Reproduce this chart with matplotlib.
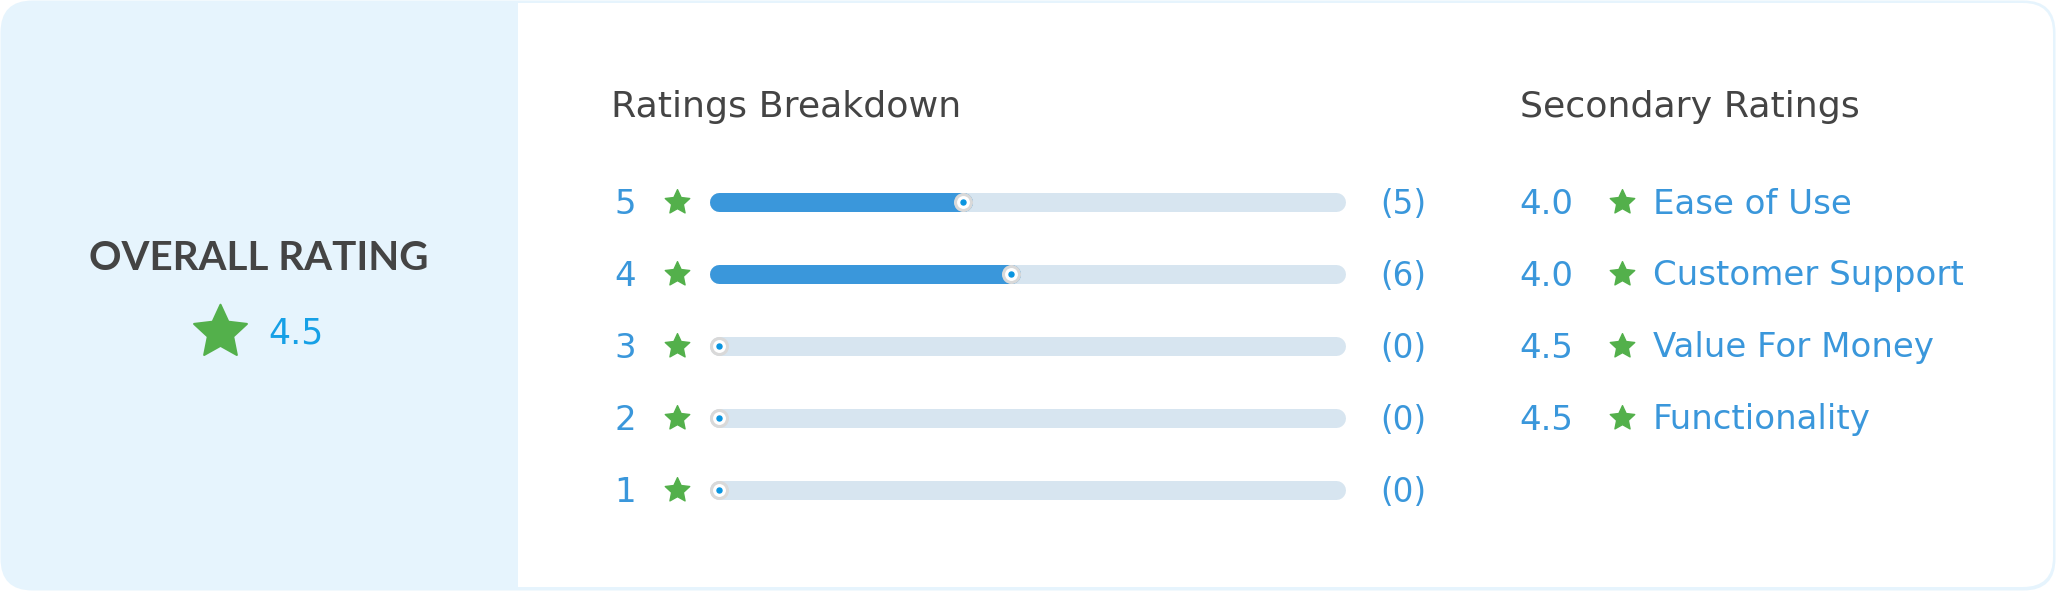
import matplotlib
matplotlib.use('Agg')
import matplotlib.pyplot as plt
from matplotlib.patches import FancyBboxPatch, Rectangle
from matplotlib.path import Path
import numpy as np

#chart data
overall_rating = 4.5
star_levels = [5, 4, 3, 2, 1]
star_counts = [5, 6, 0, 0, 0]
secondary_names = ['Ease of Use', 'Customer Support', 'Value For Money', 'Functionality']
secondary_values = [4.0, 4.0, 4.5, 4.5]

#colours
DARK = '#444444'
BLUE = '#3a97db'
BRIGHT_BLUE = '#16a0e6'
GREEN = '#53b04b'
PANEL = '#e6f4fd'
TRACK = '#d7e5f0'
FONT = 'DejaVu Sans'
HEAD_FONT = 'Lato'

W, H = 2056, 591
ROW_Y = [202, 274, 346, 418, 490]


#rounded five point star used as marker
def star_path(inner=0.48):
    verts = []
    for i in range(10):
        ang = np.pi / 2 + i * np.pi / 5
        r = 1.0 if i % 2 == 0 else inner
        verts.append((r * np.cos(ang), r * np.sin(ang)))
    verts.append(verts[0])
    codes = [Path.MOVETO] + [Path.LINETO] * 9 + [Path.CLOSEPOLY]
    return Path(verts, codes)


STAR = star_path()


def draw_card(ax):
    #outer card, its colour also makes the border and the left panel
    ax.add_patch(FancyBboxPatch((0.5, 0.5), W - 1, H - 1,
                                boxstyle='round,pad=0,rounding_size=32',
                                facecolor=PANEL, edgecolor='none'))
    #white right part
    ax.add_patch(FancyBboxPatch((470, 3), W - 3 - 470, H - 7,
                                boxstyle='round,pad=0,rounding_size=30',
                                facecolor='white', edgecolor='none'))
    ax.add_patch(Rectangle((440, 2), 518 - 440, H - 4, facecolor=PANEL, edgecolor='none'))


def draw_overall(ax):
    ax.text(258.5, 270, 'OVERALL RATING', ha='center', va='baseline',
            fontsize=29, fontweight='bold', color=DARK, family=HEAD_FONT)
    ax.scatter([219.5], [332], marker=STAR, s=40 ** 2, color=GREEN,
               edgecolors=GREEN, linewidths=1.5, zorder=5)
    ax.text(268, 343, f'{overall_rating:.1f}', ha='left', va='baseline',
            fontsize=25, color=BRIGHT_BLUE, family=FONT)


def draw_breakdown(fig, ax):
    ax.text(611, 117, 'Ratings Breakdown', ha='left', va='baseline',
            fontsize=26.2, color=DARK, family=FONT)

    total = sum(star_counts)
    fracs = [c / total for c in star_counts]

    for lvl, cnt, y in zip(star_levels, star_counts, ROW_Y):
        ax.text(625, y + 12, str(lvl), ha='center', va='baseline',
                fontsize=24.5, color=BLUE, family=FONT)
        ax.scatter([677], [y], marker=STAR, s=18.5 ** 2, color=GREEN,
                   edgecolors=GREEN, linewidths=1, zorder=5)
        ax.text(1380, y + 12, f'({cnt})', ha='left', va='baseline',
                fontsize=23.5, color=BLUE, family=FONT)

    #bars get their own axes: x = share of reviews, y = star level
    left_px, right_px, top_px, bot_px = 700, 1360, 166, 526
    bx = fig.add_axes([left_px / W, 1 - bot_px / H, (right_px - left_px) / W, (bot_px - top_px) / H])
    bx.set_xlim((left_px - 719) / 536, (right_px - 719) / 536)
    bx.set_ylim(0.5, 5.5)
    bx.axis('off')

    track_end = 1.152
    lw = 19 * 0.72
    for lvl, frac in zip(star_levels, fracs):
        bx.plot([0, track_end], [lvl, lvl], color=TRACK, lw=lw, solid_capstyle='round', zorder=1)
        if frac > 0:
            bx.plot([0, frac], [lvl, lvl], color=BLUE, lw=lw, solid_capstyle='round', zorder=2)
    bx.scatter(fracs, star_levels, s=11.5 ** 2, facecolor='white', edgecolors='#d9d9d9',
               linewidths=2.2, zorder=3)
    bx.scatter(fracs, star_levels, s=3.6 ** 2, color='#0a95e0', zorder=4)


def draw_secondary(ax):
    ax.text(1520, 117, 'Secondary Ratings', ha='left', va='baseline',
            fontsize=26.2, color=DARK, family=FONT)
    for name, val, y in zip(secondary_names, secondary_values, ROW_Y):
        ax.text(1573, y + 11.5, f'{val:.1f}', ha='right', va='baseline',
                fontsize=24.5, color=BLUE, family=FONT)
        ax.scatter([1622], [y], marker=STAR, s=18.5 ** 2, color=GREEN,
                   edgecolors=GREEN, linewidths=1, zorder=5)
        ax.text(1653, y + 11.5, name, ha='left', va='baseline',
                fontsize=24.5, color=BLUE, family=FONT)


def main():
    fig = plt.figure(figsize=(W / 100, H / 100), dpi=100, facecolor='white')
    ax = fig.add_axes([0, 0, 1, 1])
    ax.set_xlim(0, W)
    ax.set_ylim(H, 0)
    ax.axis('off')

    draw_card(ax)
    draw_overall(ax)
    draw_breakdown(fig, ax)
    draw_secondary(ax)

    fig.savefig('out.png', dpi=100, facecolor='white')


if __name__ == '__main__':
    main()
